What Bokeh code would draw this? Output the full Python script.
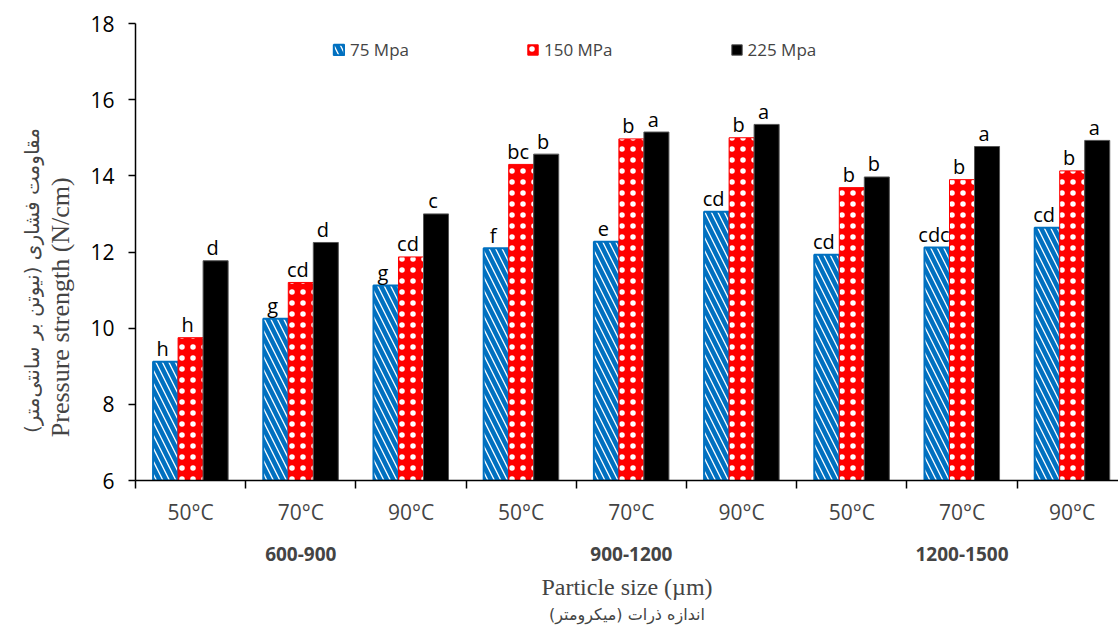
import numpy as np
from bokeh.plotting import figure
from bokeh.models import Range1d, LinearAxis, FixedTicker, Legend, LegendItem
from bokeh.core.properties import value
from bokeh.embed import file_html
from bokeh.resources import INLINE

# ---- data ----
temps = ["50°C", "70°C", "90°C", "50°C", "70°C", "90°C", "50°C", "70°C", "90°C"]
groups = ["600-900", "900-1200", "1200-1500"]
series = ["75 Mpa", "150 MPa", "225 Mpa"]
v75 = [9.12, 10.25, 11.12, 12.10, 12.27, 13.06, 11.93, 12.12, 12.64]
v150 = [9.75, 11.20, 11.87, 14.30, 14.97, 15.00, 13.69, 13.90, 14.13]
v225 = [11.77, 12.25, 13.00, 14.57, 15.15, 15.35, 13.97, 14.77, 14.93]
l75 = ["h", "g", "g", "f", "e", "cd", "cd", "cdc", "cd"]
l150 = ["h", "cd", "cd", "bc", "b", "b", "b", "b", "b"]
l225 = ["d", "d", "c", "b", "a", "a", "b", "a", "a"]
y_ticks = [6, 8, 10, 12, 14, 16, 18]
y_title_en = "Pressure strength (N/cm)"
y_title_fa = "مقاومت فشاری (نیوتن بر سانتی‌متر)"
x_title_en = "Particle size (µm)"
x_title_fa = "اندازه ذرات (میکرومتر)"

NB = "\u00a0"
RLM = "\u200f"

idx = np.arange(len(temps))
bw = 0.227
group_centers = [int(np.mean(idx[g * 3:(g + 1) * 3])) for g in range(len(groups))]

p = figure(width=1118, height=632, x_range=Range1d(-0.5, 8.42), y_range=Range1d(6, 18),
           output_backend="svg", toolbar_location=None, x_axis_type=None, y_axis_type=None,
           min_border_left=135, min_border_right=0, min_border_top=23, min_border_bottom=152)
p.outline_line_color = None
p.background_fill_color = "white"
p.border_fill_color = "white"

# ---- y axes ----
ya = LinearAxis(ticker=FixedTicker(ticks=y_ticks), axis_label=y_title_en + NB * 17)
ya.axis_label_text_font = "Liberation Serif"
ya.axis_label_text_font_size = "26px"
ya.axis_label_text_font_style = "normal"
ya.axis_label_standoff = 12
ya.major_label_text_font = "Open Sans"
ya.major_label_text_font_size = "21px"
ya.major_label_text_color = "black"
ya.major_label_standoff = 14
ya.major_tick_out = 7
ya.major_tick_in = 0
ya.major_tick_line_width = 1.5
ya.axis_line_width = 1.5
ya.minor_tick_line_color = None
p.add_layout(ya, "left")

ya2 = LinearAxis(ticker=FixedTicker(ticks=[]), axis_label=RLM + y_title_fa + RLM + NB * 9)
ya2.axis_line_color = None
ya2.major_tick_line_color = None
ya2.minor_tick_line_color = None
ya2.major_tick_out = 0
ya2.major_label_standoff = 0
ya2.axis_label_standoff = 0
ya2.axis_label_text_font = "DejaVu Sans"
ya2.axis_label_text_font_size = "20px"
ya2.axis_label_text_font_style = "normal"
p.add_layout(ya2, "left")

# ---- x axes ----
xa = LinearAxis(ticker=FixedTicker(ticks=list(idx), minor_ticks=[i - 0.5 for i in range(len(temps) + 1)]))
xa.major_label_overrides = {int(i): temps[i] for i in idx}
xa.major_tick_line_color = None
xa.major_tick_out = 0
xa.major_tick_in = 0
xa.minor_tick_out = 8
xa.minor_tick_in = 0
xa.minor_tick_line_color = "black"
xa.minor_tick_line_width = 1.5
xa.axis_line_width = 1.5
xa.major_label_text_font = "Open Sans"
xa.major_label_text_font_size = "21px"
xa.major_label_standoff = 9
p.add_layout(xa, "below")

xa2 = LinearAxis(ticker=FixedTicker(ticks=group_centers), axis_label=x_title_en)
xa2.major_label_overrides = {group_centers[g]: groups[g] for g in range(len(groups))}
xa2.axis_line_color = None
xa2.major_tick_line_color = None
xa2.minor_tick_line_color = None
xa2.major_tick_out = 0
xa2.major_tick_in = 0
xa2.major_label_text_font = "Open Sans"
xa2.major_label_text_font_style = "bold"
xa2.major_label_text_font_size = "19px"
xa2.major_label_standoff = 18
xa2.axis_label_text_font = "Liberation Serif"
xa2.axis_label_text_font_size = "24px"
xa2.axis_label_text_font_style = "normal"
xa2.axis_label_standoff = 10
p.add_layout(xa2, "below")

xa3 = LinearAxis(ticker=FixedTicker(ticks=[]), axis_label=RLM + x_title_fa + RLM)
xa3.axis_line_color = None
xa3.major_tick_line_color = None
xa3.minor_tick_line_color = None
xa3.major_tick_out = 0
xa3.major_label_standoff = 0
xa3.axis_label_standoff = 2
xa3.axis_label_text_font = "DejaVu Sans"
xa3.axis_label_text_font_size = "16px"
xa3.axis_label_text_font_style = "normal"
p.add_layout(xa3, "below")

# ---- bars ----
r1 = p.vbar(x=idx - bw, top=v75, bottom=6, width=bw, fill_color="white",
            line_color="#0070C0", line_width=2, hatch_pattern="\\", hatch_color="#0070C0",
            hatch_weight=4.5, hatch_scale=13)
r2 = p.vbar(x=idx, top=v150, bottom=6, width=bw, fill_color="#FF0000",
            line_color="#FF0000", line_width=1, hatch_pattern="dot", hatch_color="white",
            hatch_weight=1, hatch_scale=11)
r3 = p.vbar(x=idx + bw, top=v225, bottom=6, width=bw, fill_color="black",
            line_color="#555555", line_width=1)

for xs, ys, ls in [(idx - bw, v75, l75), (idx, v150, l150), (idx + bw, v225, l225)]:
    p.text(x=xs, y=ys, text=ls, text_align="center", text_baseline="alphabetic",
           x_offset=-3, y_offset=-13, text_font=value("Open Sans"), text_font_size="20px",
           text_color="black")

legend = Legend(items=[LegendItem(label=series[0], renderers=[r1]),
                       LegendItem(label=series[1], renderers=[r2]),
                       LegendItem(label=series[2], renderers=[r3])],
                orientation="horizontal", location=(197, 419))
legend.border_line_color = None
legend.background_fill_alpha = 0
legend.padding = 0
legend.margin = 0
legend.spacing = 117
legend.glyph_width = 13
legend.glyph_height = 13
legend.label_standoff = 5
legend.label_text_font = "Open Sans"
legend.label_text_font_size = "17px"
legend.label_height = 20
p.add_layout(legend, "center")

open("out.html", "w").write(file_html(p, INLINE))
